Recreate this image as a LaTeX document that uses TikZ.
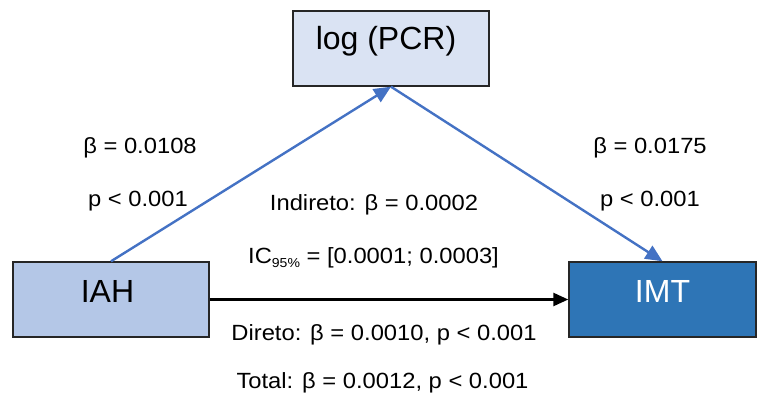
\documentclass[tikz,border=0pt]{standalone}
\usepackage{fontspec}
\setmainfont{Liberation Sans}
\newfontfamily\lblfont[FakeStretch=1.08]{Liberation Sans}
\usetikzlibrary{arrows.meta,calc}
\definecolor{pcrfill}{HTML}{DAE3F3}
\definecolor{iahfill}{HTML}{B4C7E7}
\definecolor{imtfill}{HTML}{2E75B6}
\definecolor{pathblue}{HTML}{4472C4}
\begin{document}
\begin{tikzpicture}[x=1pt,y=-1pt,
  varbox/.style={draw=black!85,line width=1.4pt,minimum height=75pt,inner sep=0pt},
  boxtext/.style={anchor=base,inner sep=0pt,font=\fontsize{32}{36}\selectfont},
  stat/.style={anchor=base,inner sep=0pt,font=\lblfont\fontsize{22}{26}\selectfont},
  bluepath/.style={draw=pathblue,line width=2.4pt,-{Triangle[length=17pt,width=15pt]}},
  directpath/.style={draw=black,line width=2.5pt,-{Triangle[length=15pt,width=13pt]}}]
\useasboundingbox (0,0) rectangle (757,403);

% variable boxes
\node[varbox,fill=pcrfill,minimum width=196pt] (pcr) at (391,48.5) {};
\node[varbox,fill=iahfill,minimum width=196pt] (iah) at (111,299.5) {};
\node[varbox,fill=imtfill,minimum width=187pt] (imt) at (662.5,299.5) {};

\node[boxtext] (pcrtxt) at (386,50) {log (PCR)};
\node[boxtext] (iahtxt) at (107.5,302) {IAH};
\node[boxtext,text=white] (imttxt) at (662.5,302) {IMT};

% paths
\draw[bluepath] (iah.north) -- (pcr.south);
\draw[bluepath] (pcr.south) -- (imt.north);
\draw[directpath] (iah.east) -- (imt.west);

% coefficients
\node[stat] (a1) at (140,154) {β = 0.0108};
\node[stat] (a2) at (138,207) {p < 0.001};
\node[stat] (b1) at (650,154) {β = 0.0175};
\node[stat] (b2) at (650,207) {p < 0.001};
\node[stat] (ind) at (374,210.5) {Indireto: β = 0.0002};
\node[stat] (ic) at (373.5,264) {IC\raisebox{-3pt}{\fontsize{13}{14}\selectfont 95\%} = [0.0001; 0.0003]};
\node[stat] (dir) at (384,340) {Direto: β = 0.0010, p < 0.001};
\node[stat] (tot) at (382.5,388) {Total: β = 0.0012, p < 0.001};
\end{tikzpicture}
\end{document}
